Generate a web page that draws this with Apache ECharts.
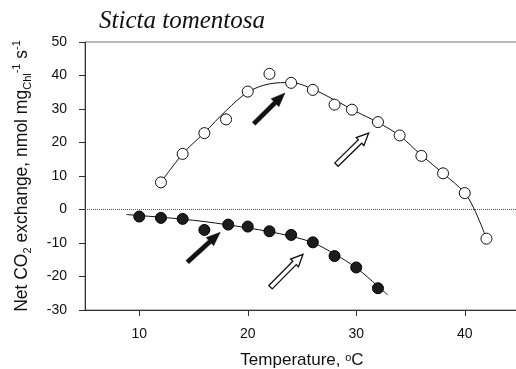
<!DOCTYPE html>
<html>
<head>
<meta charset="utf-8">
<script src="https://cdn.jsdelivr.net/npm/echarts@6/dist/echarts.min.js"></script>
<style>html,body{margin:0;padding:0;background:#fff}#c{width:516px;height:369px}</style>
</head>
<body>
<div id="c"></div>
<script>
// Open circles (upper series)
const tempOpen = [12, 14, 16, 18, 20, 22, 24, 26, 28, 29.6, 32, 34, 36, 38, 40, 42];
const valOpen = [8.1, 16.6, 22.8, 26.9, 35.2, 40.5, 37.8, 35.7, 31.3, 29.8, 26.1, 22.1, 16.0, 10.8, 4.9, -8.7];
// Filled circles (lower series)
const tempFilled = [10, 12, 14, 16, 18.2, 20, 22, 24, 26, 28, 30, 32];
const valFilled = [-2.1, -2.5, -2.8, -6.1, -4.5, -5.1, -6.5, -7.6, -9.8, -13.9, -17.3, -23.5];
// Fitted curves
const fitOpenT = [12, 14, 16, 18, 20, 22, 24, 26, 28, 30, 32, 34, 36, 38, 40, 41, 42];
const fitOpenV = [8.1, 16.6, 22.9, 29.5, 35.0, 37.5, 37.9, 35.9, 32.7, 29.2, 26.0, 22.0, 16.2, 10.8, 4.9, -0.8, -8.7];
const fitFilledT = [8.8, 10, 12, 14, 16, 18, 20, 22, 24, 26, 28, 30, 32, 32.9];
const fitFilledV = [-1.5, -1.8, -2.3, -2.9, -3.6, -4.5, -5.5, -6.6, -8.0, -9.9, -13.3, -17.4, -22.9, -25.5];
// Arrows: [x1, y1, x2, y2] in data units
const arrowSolid = [[20.56, 25.6, 23.43, 34.8], [14.44, -15.7, 17.47, -6.8]];
const arrowHollow = [[28.18, 13.4, 31.14, 22.8], [22.1, -23.2, 25.09, -13.4]];
// Tick labels
const xTicks = [10, 20, 30, 40];

const zip = (a, b) => a.map((v, i) => [v, b[i]]);

function arrowRender(hollow) {
  return function (params, api) {
    const p1 = api.coord([api.value(0), api.value(1)]);
    const p2 = api.coord([api.value(2), api.value(3)]);
    const dx = p2[0] - p1[0], dy = p2[1] - p1[1];
    const L = Math.sqrt(dx * dx + dy * dy);
    const ux = dx / L, uy = dy / L, nx = -uy, ny = ux;
    const hl = hollow ? 12 : 14, hw = hollow ? 5.5 : 5.5, sw = hollow ? 2.4 : 2.2;
    const bx = p2[0] - ux * hl, by = p2[1] - uy * hl;
    const pts = [
      [p1[0] + nx * sw, p1[1] + ny * sw],
      [bx + nx * sw, by + ny * sw],
      [bx + nx * hw, by + ny * hw],
      [p2[0], p2[1]],
      [bx - nx * hw, by - ny * hw],
      [bx - nx * sw, by - ny * sw],
      [p1[0] - nx * sw, p1[1] - ny * sw]
    ];
    return {
      type: 'polygon',
      shape: { points: pts },
      style: hollow ? { fill: '#fff', stroke: '#111', lineWidth: 1.3 } : { fill: '#111', stroke: '#111', lineWidth: 0.5 }
    };
  };
}

const chart = echarts.init(document.getElementById('c'), null, { renderer: 'canvas' });
chart.setOption({
  animation: false,
  backgroundColor: '#fff',
  title: {
    text: 'Sticta tomentosa', left: 94, top: 4,
    textStyle: { fontFamily: 'Liberation Serif', fontStyle: 'italic', fontWeight: 'normal', fontSize: 25, color: '#111' }
  },
  grid: {
    left: 85, top: 42, width: 434, height: 268, containLabel: false, outerBoundsMode: 'none',
    show: true, borderColor: '#777', borderWidth: 1, backgroundColor: 'transparent'
  },
  xAxis: {
    type: 'value', min: 5, max: 45,
    name: 'Temperature, {sup|o}C', nameLocation: 'middle', nameGap: 42,
    nameTextStyle: {
      fontFamily: 'Liberation Sans', fontSize: 17, color: '#111',
      rich: { sup: { fontSize: 11, verticalAlign: 'top', fontFamily: 'Liberation Sans', color: '#111' } }
    },
    axisLine: { show: true, onZero: false, lineStyle: { color: '#333', width: 1 } },
    axisTick: { show: true, inside: false, length: 6, customValues: xTicks, lineStyle: { color: '#333' } },
    axisLabel: { customValues: xTicks, fontFamily: 'Liberation Sans', fontSize: 14, color: '#111', margin: 17 },
    splitLine: { show: false }
  },
  yAxis: {
    type: 'value', min: -30, max: 50, interval: 10,
    name: 'Net CO{sub|2} exchange, nmol mg{sub|Chl}{sup|-1} s{sup|-1}',
    nameLocation: 'middle', nameGap: 52, nameRotate: 90,
    nameTextStyle: {
      fontFamily: 'Liberation Sans', fontSize: 17.5, color: '#111', lineHeight: 22,
      rich: {
        sub: { fontSize: 11, verticalAlign: 'bottom', fontFamily: 'Liberation Sans', color: '#111', lineHeight: 22 },
        sup: { fontSize: 11, verticalAlign: 'top', fontFamily: 'Liberation Sans', color: '#111', lineHeight: 22 }
      }
    },
    axisLine: { show: true, onZero: false, lineStyle: { color: '#333', width: 1 } },
    axisTick: { show: true, inside: false, length: 6, lineStyle: { color: '#333' } },
    axisLabel: { fontFamily: 'Liberation Sans', fontSize: 14, color: '#111', margin: 18 },
    splitLine: { show: false }
  },
  series: [
    {
      type: 'line', data: zip(fitOpenT, fitOpenV), smooth: 0.35, showSymbol: false,
      lineStyle: { color: '#111', width: 1 }, z: 2,
      markLine: {
        silent: true, symbol: 'none', label: { show: false },
        lineStyle: { color: '#555', width: 1, type: 'dotted' },
        data: [{ yAxis: 0 }]
      }
    },
    {
      type: 'line', data: zip(fitFilledT, fitFilledV), smooth: 0.35, showSymbol: false,
      lineStyle: { color: '#111', width: 1 }, z: 2
    },
    {
      type: 'scatter', data: zip(tempOpen, valOpen), symbol: 'circle', symbolSize: 11,
      itemStyle: { color: '#fff', borderColor: '#111', borderWidth: 1, opacity: 1 }, z: 3
    },
    {
      type: 'scatter', data: zip(tempFilled, valFilled), symbol: 'circle', symbolSize: 11,
      itemStyle: { color: '#1c1c1c', borderColor: '#000', borderWidth: 1, opacity: 1 }, z: 3
    },
    {
      type: 'custom', renderItem: arrowRender(false), data: arrowSolid,
      encode: { x: [0, 2], y: [1, 3] }, z: 4, silent: true
    },
    {
      type: 'custom', renderItem: arrowRender(true), data: arrowHollow,
      encode: { x: [0, 2], y: [1, 3] }, z: 4, silent: true
    }
  ]
});
</script>
</body>
</html>
